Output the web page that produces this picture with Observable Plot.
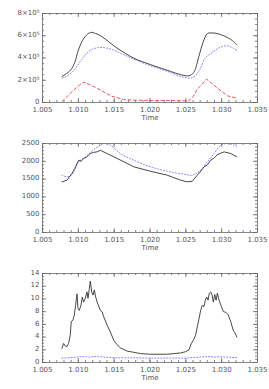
<!DOCTYPE html>
<html>
<head>
<meta charset="utf-8">
<script src="https://cdn.jsdelivr.net/npm/d3@7"></script>
<script src="https://cdn.jsdelivr.net/npm/@observablehq/plot@0.6"></script>
<style>
  html, body { margin: 0; padding: 0; background: #fff; }
  #charts svg { display: block; }
</style>
</head>
<body>
<div id="charts"></div>
<script>
// ---- Data ----
const xTicks = [1.005, 1.010, 1.015, 1.020, 1.025, 1.030, 1.035];

// Panel 1
const p1YTicks = [0, 2e5, 4e5, 6e5, 8e5];
const p1Black = [[1.00775,2.34e5],[1.0089,2.9e5],[1.0095,3.6e5],[1.0100,4.7e5],[1.0108,5.8e5],[1.0117,6.3e5],[1.0124,6.2e5],[1.0131,6.0e5],[1.0154,4.9e5],[1.0177,4.0e5],[1.0201,3.4e5],[1.0224,2.9e5],[1.0243,2.5e5],[1.0254,2.4e5],[1.0261,2.7e5],[1.0268,4.1e5],[1.0274,5.4e5],[1.0280,6.2e5],[1.0285,6.25e5],[1.0294,6.2e5],[1.0312,5.7e5],[1.0321,5.2e5]];
const p1Blue = [[1.00775,2.2e5],[1.0085,2.4e5],[1.0094,2.9e5],[1.0105,3.9e5],[1.0117,4.7e5],[1.0131,4.95e5],[1.0145,4.8e5],[1.0160,4.4e5],[1.0177,3.9e5],[1.0201,3.3e5],[1.0224,2.8e5],[1.0245,2.3e5],[1.0257,2.2e5],[1.0263,2.4e5],[1.0270,3.0e5],[1.0277,4.0e5],[1.0287,4.5e5],[1.0296,4.9e5],[1.0308,5.1e5],[1.0321,4.7e5]];
const p1Red = [[1.00775,0.1e5],[1.0090,0.9e5],[1.0100,1.5e5],[1.0108,1.83e5],[1.0126,1.3e5],[1.0145,0.6e5],[1.0163,0.27e5],[1.0180,0.2e5],[1.0220,0.18e5],[1.0254,0.15e5],[1.0260,0.5e5],[1.0266,1.2e5],[1.0279,2.1e5],[1.0294,1.3e5],[1.0308,0.6e5],[1.0321,0.4e5]];

// Panel 2
const p2YTicks = [0, 500, 1000, 1500, 2000, 2500];
const p2Black = [[1.00771,1423],[1.00841,1470],[1.00911,1657],[1.00950,1800],[1.01004,2030],[1.01040,2000],[1.01074,2080],[1.01110,2110],[1.01167,2218],[1.01210,2250],[1.01261,2265],[1.01307,2310],[1.01401,2218],[1.01541,2080],[1.01681,1940],[1.01774,1845],[1.02007,1720],[1.02240,1610],[1.02427,1470],[1.02520,1423],[1.02590,1440],[1.02660,1610],[1.02700,1700],[1.02754,1845],[1.02800,1900],[1.02847,2030],[1.02900,2100],[1.02940,2190],[1.03034,2265],[1.03127,2218],[1.03211,2125]];
const p2Blue = [[1.00771,1610],[1.00841,1563],[1.00911,1629],[1.01004,1984],[1.01097,2125],[1.01190,2284],[1.01284,2424],[1.01354,2500],[1.01447,2452],[1.01587,2218],[1.01774,2030],[1.02007,1845],[1.02240,1722],[1.02474,1638],[1.02590,1610],[1.02707,1750],[1.02800,1984],[1.02894,2218],[1.02987,2452],[1.03080,2500],[1.03174,2452],[1.03211,2405]];

// Panel 3
const p3YTicks = [0, 2, 4, 6, 8, 10, 12, 14];
const p3Black = [[1.00771,2.2],[1.00794,3.0],[1.00817,2.6],[1.00841,2.5],[1.00864,3.0],[1.00887,4.3],[1.00901,6.4],[1.00925,6.7],[1.00943,7.4],[1.00962,9.0],[1.00981,10.8],[1.00995,8.5],[1.01013,8.2],[1.01037,9.0],[1.01055,10.3],[1.01074,9.5],[1.01097,10.1],[1.01121,11.1],[1.01135,10.1],[1.01153,11.6],[1.01167,12.8],[1.01186,11.1],[1.01205,10.6],[1.01223,11.4],[1.01242,10.3],[1.01270,9.3],[1.01307,8.2],[1.01331,8.0],[1.01354,7.2],[1.01401,5.9],[1.01447,4.8],[1.01494,3.5],[1.01541,2.8],[1.01587,2.3],[1.01681,1.8],[1.01774,1.6],[1.01867,1.4],[1.02007,1.3],[1.02240,1.3],[1.02334,1.4],[1.02427,1.5],[1.02497,1.7],[1.02544,2.0],[1.02577,3.0],[1.02604,3.5],[1.02637,4.3],[1.02660,5.6],[1.02684,6.9],[1.02707,8.2],[1.02730,9.0],[1.02754,8.8],[1.02772,9.8],[1.02791,10.3],[1.02810,9.8],[1.02828,10.9],[1.02847,11.1],[1.02866,10.6],[1.02884,9.5],[1.02903,10.7],[1.02922,9.8],[1.02940,10.9],[1.02964,9.8],[1.02996,8.8],[1.03024,8.0],[1.03057,7.9],[1.03090,7.5],[1.03127,6.4],[1.03160,5.1],[1.03188,4.6],[1.03211,4.0]];
const p3Blue = [[1.00771,0.7],[1.0095,0.8],[1.0105,0.95],[1.0115,0.85],[1.0125,0.95],[1.0135,0.85],[1.0150,0.75],[1.0200,0.7],[1.0250,0.7],[1.0270,0.85],[1.0280,0.95],[1.0290,0.85],[1.0300,0.9],[1.0321,0.75]];

// ---- Drawing ----
const W = 269, H = 130, ML = 42, MR = 12, MT = 13, MB = 28;
const xDom = [1.005, 1.035];
const axisColor = "#666";
const textColor = "#555";
const font = "'DejaVu Sans', sans-serif";

function minorTicks(lo, hi, step) {
  const out = [];
  const n = Math.round((hi - lo) / step);
  for (let i = 0; i <= n; i++) out.push(lo + i * step);
  return out;
}

function panel(yDom, yMajors, yMinorStep, yFmt, series) {
  const plotW = W - ML - MR, plotH = H - MT - MB;
  const xSpan = xDom[1] - xDom[0], ySpan = yDom[1] - yDom[0];
  const majLenY = ySpan * 4 / plotH, minLenY = ySpan * 2 / plotH;
  const majLenX = xSpan * 4 / plotW, minLenX = xSpan * 2 / plotW;
  const xMinor = minorTicks(xDom[0], xDom[1], 0.001);
  const yMinor = minorTicks(yDom[0], yDom[1], yMinorStep);
  const tickStyle = {stroke: axisColor, strokeWidth: 0.8};
  const marks = [
    Plot.ruleX(xMinor, {x: d => d, y1: yDom[0], y2: yDom[0] + minLenY, ...tickStyle}),
    Plot.ruleX(xMinor, {x: d => d, y1: yDom[1], y2: yDom[1] - minLenY, ...tickStyle}),
    Plot.ruleX(xTicks, {x: d => d, y1: yDom[0], y2: yDom[0] + majLenY, ...tickStyle}),
    Plot.ruleX(xTicks, {x: d => d, y1: yDom[1], y2: yDom[1] - majLenY, ...tickStyle}),
    Plot.ruleY(yMinor, {y: d => d, x1: xDom[0], x2: xDom[0] + minLenX, ...tickStyle}),
    Plot.ruleY(yMinor, {y: d => d, x1: xDom[1], x2: xDom[1] - minLenX, ...tickStyle}),
    Plot.ruleY(yMajors, {y: d => d, x1: xDom[0], x2: xDom[0] + majLenX, ...tickStyle}),
    Plot.ruleY(yMajors, {y: d => d, x1: xDom[1], x2: xDom[1] - majLenX, ...tickStyle}),
    Plot.frame({stroke: axisColor, strokeWidth: 0.8}),
    ...series,
    Plot.text(xTicks, {x: d => d, frameAnchor: "bottom", dy: 9, text: d => d3.format(".3f")(d), fill: textColor, fontSize: 7}),
    Plot.text(yMajors, {y: d => d, frameAnchor: "left", dx: -3, dy: -1, textAnchor: "end", text: yFmt, fill: textColor, fontSize: 7}),
    Plot.text(["Time"], {frameAnchor: "bottom", dy: 17, text: d => d, fill: textColor, fontSize: 7})
  ];
  return Plot.plot({
    width: W, height: H,
    marginLeft: ML, marginRight: MR, marginTop: MT, marginBottom: MB,
    x: {domain: xDom, axis: null},
    y: {domain: yDom, axis: null},
    style: {fontFamily: font, background: "white", overflow: "visible"},
    marks
  });
}

const blackLine = (data, curve) => Plot.line(data, {x: d => d[0], y: d => d[1], stroke: "#333", strokeWidth: 0.9, curve});
const blueLine = (data, curve) => Plot.line(data, {x: d => d[0], y: d => d[1], stroke: "#7070ff", strokeWidth: 0.9, strokeDasharray: "1,2", curve});
const redLine = (data, curve) => Plot.line(data, {x: d => d[0], y: d => d[1], stroke: "#e04848", strokeWidth: 0.9, strokeDasharray: "3,2.5", curve});

const sup5 = d => d === 0 ? "0" : `${d / 1e5}×10⁵`;

const container = document.getElementById("charts");
container.append(
  panel([0, 8e5], p1YTicks, 5e4, sup5, [
    redLine(p1Red, "linear"),
    blueLine(p1Blue, "catmull-rom"),
    blackLine(p1Black, "catmull-rom")
  ]),
  panel([0, 2500], p2YTicks, 100, d => String(d), [
    blueLine(p2Blue, "catmull-rom"),
    blackLine(p2Black, "linear")
  ]),
  panel([0, 14], p3YTicks, 0.5, d => String(d), [
    blueLine(p3Blue, "linear"),
    blackLine(p3Black, "linear")
  ])
);
</script>
</body>
</html>
